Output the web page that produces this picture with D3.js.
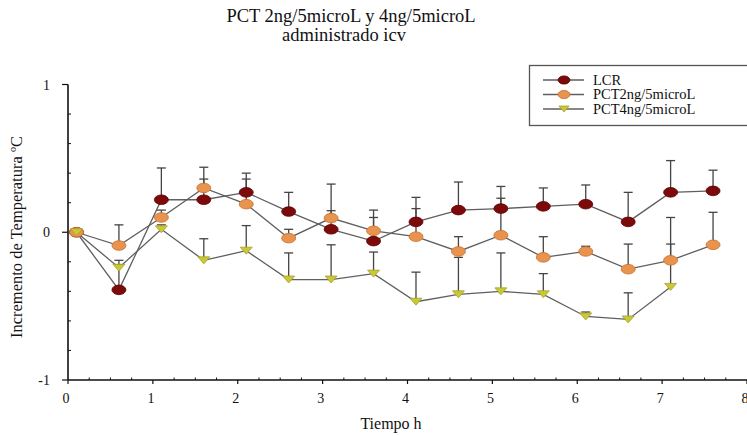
<!DOCTYPE html>
<html><head><meta charset="utf-8">
<script src="https://cdn.jsdelivr.net/npm/d3@7/dist/d3.min.js"></script>
<style>body{margin:0;background:#fff}svg{display:block}text{font-family:"Liberation Serif","Times New Roman",serif;fill:#111}</style>
</head><body><svg id="c" width="747" height="436"></svg>
<script>
const times = [0.1,0.6,1.1,1.6,2.1,2.6,3.1,3.6,4.1,4.6,5.1,5.6,6.1,6.6,7.1,7.6];
const lcr     = [0,-0.39,0.22,0.22,0.27,0.14,0.02,-0.06,0.07,0.15,0.16,0.175,0.19,0.07,0.27,0.28];
const lcrErr  = [0,0.17,0.215,0.14,0.13,0.13,0.126,0.16,0.166,0.19,0.15,0.125,0.13,0.2,0.215,0.14];
const pct2    = [0,-0.09,0.10,0.30,0.19,-0.04,0.096,0.01,-0.03,-0.13,-0.02,-0.17,-0.13,-0.25,-0.19,-0.085];
const pct2Err = [0,0.14,0.05,0.14,0.17,0.06,0.23,0.14,0.19,0.1,0.25,0.14,0.035,0.17,0.29,0.22];
const pct4    = [0,-0.24,0.02,-0.19,-0.125,-0.32,-0.32,-0.28,-0.47,-0.42,-0.40,-0.42,-0.57,-0.59,-0.37];
const pct4Err = [0,0.05,0.03,0.146,0.17,0.18,0.235,0.146,0.2,0.25,0.26,0.14,0.03,0.18,0.29];
const seriesNames = ["LCR","PCT2ng/5microL","PCT4ng/5microL"];
const xTicks = [0,1,2,3,4,5,6,7,8];
const yTicks = [-1,0,1];
const title1 = "PCT 2ng/5microL y 4ng/5microL";
const title2 = "administrado icv";

const svg = d3.select("#c");
const x = d3.scaleLinear().domain([0,8]).range([68,747]);
const y = d3.scaleLinear().domain([-1,1]).range([380,84.5]);

const series = [
  {name:seriesNames[0], v:lcr, e:lcrErr, color:"#7d0a0a", stroke:"#5a0000", shape:"ellipse"},
  {name:seriesNames[1], v:pct2, e:pct2Err, color:"#e8934e", stroke:"#c87030", shape:"ellipse"},
  {name:seriesNames[2], v:pct4, e:pct4Err, color:"#c9c83a", stroke:"#a6a520", shape:"tri"}
];

// axes
const xMinor = d3.range(0,8.001,0.25).filter(d=>Math.abs(d-Math.round(d))>1e-6);
const yMinor = d3.range(-1,1.001,0.2).filter(d=>Math.abs(d-Math.round(d))>1e-6);
const ax = svg.append("g").attr("stroke","#111");
ax.append("line").attr("x1",x(0)).attr("x2",747).attr("y1",y(-1)).attr("y2",y(-1)).attr("stroke-width",1.6);
ax.append("line").attr("x1",x(0)).attr("x2",x(0)).attr("y1",y(-1)).attr("y2",y(1)).attr("stroke-width",1.6);
ax.selectAll(".xm").data(xTicks).join("line").attr("x1",d=>x(d)).attr("x2",d=>x(d)).attr("y1",y(-1)).attr("y2",y(-1)+4).attr("stroke-width",1.2);
ax.selectAll(".xn").data(xMinor).join("line").attr("x1",d=>x(d)).attr("x2",d=>x(d)).attr("y1",y(-1)).attr("y2",y(-1)-2.5).attr("stroke-width",1);
ax.selectAll(".ym").data(yTicks).join("line").attr("x1",x(0)-6).attr("x2",x(0)).attr("y1",d=>y(d)).attr("y2",d=>y(d)).attr("stroke-width",1.2);
ax.selectAll(".yn").data(yMinor).join("line").attr("x1",x(0)).attr("x2",x(0)+3).attr("y1",d=>y(d)).attr("y2",d=>y(d)).attr("stroke-width",1);

svg.selectAll(".xl").data(xTicks).join("text").attr("x",d=>x(d)-2).attr("y",403).attr("text-anchor","middle").attr("font-size",14).text(d=>d);
svg.selectAll(".yl").data(yTicks).join("text").attr("x",50).attr("y",d=>y(d)+5).attr("text-anchor","end").attr("font-size",14).text(d=>d);

svg.append("text").attr("x",391).attr("y",429).attr("text-anchor","middle").attr("font-size",16).text("Tiempo h");
svg.append("text").attr("transform","translate(22,237) rotate(-90)").attr("text-anchor","middle").attr("font-size",16.5).text("Incremento de Temperatura ºC");

svg.append("text").attr("x",351).attr("y",22).attr("text-anchor","middle").attr("font-size",18.5).text(title1);
svg.append("text").attr("x",344).attr("y",41).attr("text-anchor","middle").attr("font-size",18.5).text(title2);

const line = d3.line().x((d,i)=>x(times[i])).y(d=>y(d));

function marker(g, s, cx, cy, scale){
  if(s.shape==="ellipse"){
    g.append("ellipse").attr("cx",cx).attr("cy",cy).attr("rx",7*scale).attr("ry",4.8*scale).attr("fill",s.color).attr("stroke",s.stroke).attr("stroke-width",0.8);
  } else {
    const w=6*scale,h=7*scale;
    g.append("path").attr("d",`M${cx-w},${cy-h/2}L${cx+w},${cy-h/2}L${cx},${cy+h/2}Z`).attr("fill",s.color).attr("stroke",s.stroke).attr("stroke-width",0.8);
  }
}

series.forEach(s=>{
  const g = svg.append("g");
  s.v.forEach((v,i)=>{
    if(s.e[i]>0){
      const xx=x(times[i]), y0=y(v), y1=y(v+s.e[i]);
      g.append("line").attr("x1",xx).attr("x2",xx).attr("y1",y0).attr("y2",y1).attr("stroke","#444").attr("stroke-width",1.3);
      g.append("line").attr("x1",xx-4.5).attr("x2",xx+4.5).attr("y1",y1).attr("y2",y1).attr("stroke","#444").attr("stroke-width",1.3);
    }
  });
});
series.forEach(s=>{
  svg.append("path").datum(s.v).attr("d",line).attr("fill","none").attr("stroke","#5f5f5f").attr("stroke-width",1.3);
});
series.forEach(s=>{
  const g = svg.append("g");
  s.v.forEach((v,i)=>marker(g,s,x(times[i]),y(v),1));
});

// legend
const lg = svg.append("g");
lg.append("rect").attr("x",529.5).attr("y",65.5).attr("width",230).attr("height",60).attr("fill","#fff").attr("stroke","#555").attr("stroke-width",1.3);
series.forEach((s,i)=>{
  const ly = 80 + i*14.5;
  lg.append("line").attr("x1",543).attr("x2",584).attr("y1",ly).attr("y2",ly).attr("stroke","#5f5f5f").attr("stroke-width",1.3);
  marker(lg,s,564,ly,0.85);
  lg.append("text").attr("x",593).attr("y",ly+4.5).attr("font-size",14.5).text(s.name);
});
</script></body></html>
